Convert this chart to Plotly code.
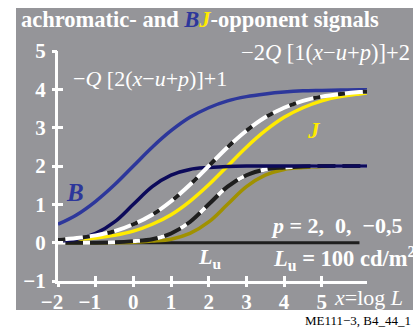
import plotly.graph_objects as go

# ---- data ----
x_vals = [-2, -1.5, -1, -0.5, 0, 0.5, 1, 1.5, 2, 2.5, 3, 3.5, 4, 4.5, 5, 5.5, 6, 6.25]

# upper curves  (-2Q[1(x-u+p)]+2), p = 2, 0, -0.5
upper_blue   = [0.48, 0.73, 1.08, 1.51, 2.00, 2.49, 2.92, 3.27, 3.52, 3.70, 3.81, 3.88, 3.93, 3.96, 3.97, 3.98, 3.99, 3.99]
upper_achrom = [0.07, 0.12, 0.19, 0.30, 0.48, 0.73, 1.08, 1.51, 2.00, 2.49, 2.92, 3.27, 3.52, 3.70, 3.81, 3.88, 3.93, 3.94]
upper_yellow = [0.04, 0.07, 0.12, 0.19, 0.30, 0.48, 0.73, 1.08, 1.51, 2.00, 2.49, 2.92, 3.27, 3.52, 3.70, 3.81, 3.88, 3.91]

# lower curves  (-Q[2(x-u+p)]+1), p = 2, 0, -0.5
lower_navy   = [0.04, 0.09, 0.24, 0.54, 1.00, 1.46, 1.76, 1.91, 1.96, 1.99, 2.00, 2.00, 2.00, 2.00, 2.00, 2.00, 2.00, 2.00]
lower_achrom = [0.00, 0.00, 0.00, 0.01, 0.04, 0.09, 0.24, 0.54, 1.00, 1.46, 1.76, 1.91, 1.96, 1.99, 2.00, 2.00, 2.00, 2.00]
lower_olive  = [0.00, 0.00, 0.00, 0.00, 0.01, 0.04, 0.09, 0.24, 0.54, 1.00, 1.46, 1.76, 1.91, 1.96, 1.99, 2.00, 2.00, 2.00]

zero_x = [-2, 6]
zero_y = [0, 0]

x_ticks = [-2, -1, 0, 1, 2, 3, 4, 5]
x_ticktext = ["\u22122", "\u22121", "0", "1", "2", "3", "4", "5"]
y_ticks = [-1, 0, 1, 2, 3, 4, 5]
y_ticktext = ["\u22121", "0", "1", "2", "3", "4", "5"]

# ---- styles ----
GRAY = "#959599"
BLUE = "rgb(45,55,155)"
NAVY = "rgb(12,10,90)"
YELLOW = "rgb(255,235,0)"
OLIVE = "rgb(160,145,0)"
BLACK = "#1e1e1e"
SERIF = "Liberation Serif, Times New Roman, serif"

fig = go.Figure()

def line(y, color, width=3.5, dash=None, x=x_vals, shape="spline"):
    fig.add_trace(go.Scatter(x=x, y=y, mode="lines",
                             line=dict(color=color, width=width, dash=dash, shape=shape, smoothing=1.0),
                             hoverinfo="skip", showlegend=False))

line(zero_y, BLACK, width=3, shape="linear", x=zero_x)
line(upper_blue, BLUE)
line(upper_yellow, YELLOW)
line(lower_olive, OLIVE)
line(lower_achrom, BLACK, width=4)
line(lower_achrom, "white", width=4, dash="7px,18px")
line(lower_navy, NAVY)
line(upper_achrom, "white", width=4)
line(upper_achrom, BLACK, width=4, dash="7px,18px")

# invisible trace on overlay axes (outer halves of the crossing tick marks)
fig.add_trace(go.Scatter(x=[-2], y=[-1], xaxis="x2", yaxis="y2", mode="markers",
                         marker=dict(opacity=0), hoverinfo="skip", showlegend=False))

W, H = 417, 328
L, R, T, B = 58, 50, 51, 47
pw, ph = W - L - R, H - T - B

def px(xp):
    return (xp - L) / pw

def py(yp):
    return (H - B - yp) / ph

fig.add_shape(type="rect", xref="paper", yref="paper",
              x0=px(16), x1=px(413), y0=py(310), y1=py(8),
              fillcolor=GRAY, line=dict(width=0), layer="below")

def ann(text, xp, yp, size=18, color="white", xanchor="left"):
    fig.add_annotation(text=text, xref="paper", yref="paper", x=px(xp), y=py(yp),
                       xanchor=xanchor, yanchor="middle", showarrow=False,
                       font=dict(family=SERIF, size=size, color=color))

ann("<b>achromatic- and <i><span style='color:" + BLUE + "'>B</span><span style='color:" + YELLOW + "'>J</span></i>-opponent signals</b>",
    19, 20, size=22.5)
ann("\u2212<i>Q</i> [2(<i>x</i>\u2212<i>u</i>+<i>p</i>)]+1", 71, 78, size=22)
ann("\u22122<i>Q</i> [1(<i>x</i>\u2212<i>u</i>+<i>p</i>)]+2", 239, 53, size=22.5)
ann("<b><i>B</i></b>", 75, 192, size=25, color=BLUE, xanchor="center")
ann("<b><i>J</i></b>", 314, 130, size=23, color=YELLOW, xanchor="center")
ann("<b><i>p</i> = 2,  0,  \u22120,5</b>", 269, 225, size=22)
ann("<b><i>L</i><sub>u</sub></b>", 196, 258, size=22)
ann("<b><i>L</i><sub>u</sub> = 100 cd/m<sup>2</sup></b>", 271, 258, size=22.5)
ann("<i>x</i>=log <i>L</i>", 332, 297, size=22)
ann("ME111\u22123, B4_44_1", 413, 320, size=13, color="black", xanchor="right")

# keep the digit of negative x labels centred on its tick (hidden trailing minus)
HIDDEN = "<span style='color:rgba(0,0,0,0)'>\u2212</span>"
x_labels = ["<b>" + t + "</b>" + (HIDDEN if t.startswith("\u2212") else "") for t in x_ticktext]

tickfont = dict(family=SERIF, size=21, color="white", weight="bold")
fig.update_layout(
    width=W, height=H,
    margin=dict(l=L, r=R, t=T, b=B),
    paper_bgcolor="white",
    plot_bgcolor="rgba(0,0,0,0)",
    showlegend=False,
    xaxis=dict(range=[-2, 6.2], showgrid=False, zeroline=False,
               showline=True, linecolor="white", linewidth=3,
               tickvals=x_ticks, ticktext=x_labels,
               ticks="inside", ticklen=5, tickwidth=3, tickcolor="white",
               tickfont=tickfont, fixedrange=True),
    yaxis=dict(range=[-1, 5], showgrid=False, zeroline=False,
               showline=True, linecolor="white", linewidth=3,
               tickvals=y_ticks, ticktext=["<b>" + t + "</b>" for t in y_ticktext],
               ticks="inside", ticklen=5, tickwidth=3, tickcolor="white",
               ticklabelstandoff=5,
               tickfont=tickfont, fixedrange=True),
    xaxis2=dict(range=[-2, 6.2], overlaying="x", anchor="y2", side="bottom",
                showgrid=False, zeroline=False, showline=False,
                tickvals=x_ticks, showticklabels=False,
                ticks="outside", ticklen=5, tickwidth=3, tickcolor="white", fixedrange=True),
    yaxis2=dict(range=[-1, 5], overlaying="y", anchor="x2", side="left",
                showgrid=False, zeroline=False, showline=False,
                tickvals=y_ticks, showticklabels=False,
                ticks="outside", ticklen=5, tickwidth=3, tickcolor="white", fixedrange=True),
)

fig.write_html("out.html", config={"displayModeBar": False})
